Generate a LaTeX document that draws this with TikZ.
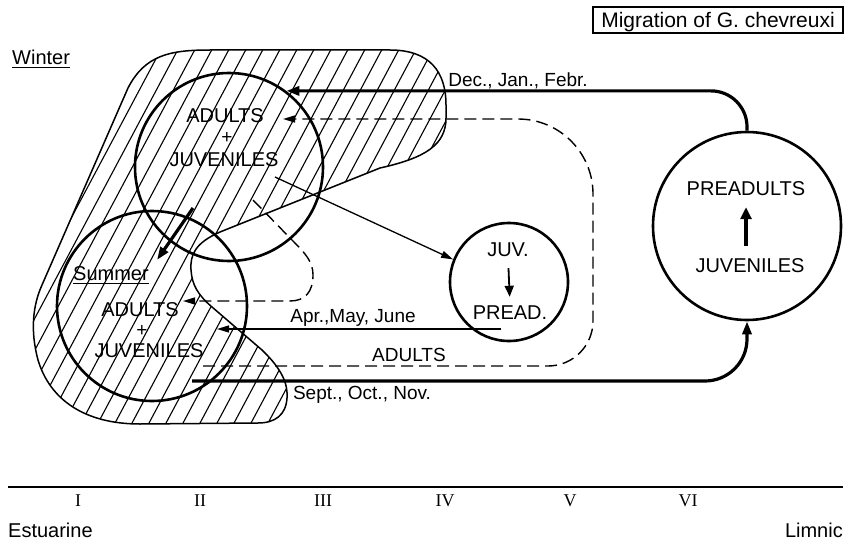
\documentclass[tikz,border=0pt]{standalone}
\usepackage{fontspec}
\setmainfont{Liberation Sans}
\newfontfamily\romanfont{Liberation Serif}
\usetikzlibrary{arrows.meta}
\begin{document}
\begin{tikzpicture}[x=1pt,y=-1pt,
  txt/.style={font=\fontsize{20}{24}\selectfont, inner sep=0pt, text height=14pt, text depth=0pt},
  plustxt/.style={font=\fontsize{19}{23}\selectfont, inner sep=0pt, text height=12pt, text depth=-2pt},
  lbl/.style={font=\fontsize{19}{23}\selectfont, inner sep=0pt, text height=13.5pt, text depth=0pt},
  romtxt/.style={font=\romanfont\fontsize{18}{22}\selectfont, inner sep=0pt, text height=12pt, text depth=0pt},
  bigcirc/.style={circle, draw, line width=2.6pt, inner sep=0pt},
  thickarrow/.style={line width=3.2pt, -{Triangle[length=13pt,width=9pt]}},
  thinarrow/.style={line width=1.3pt, -{Triangle[length=12pt,width=7pt]}},
  dasharrow/.style={line width=1.4pt, dash pattern=on 12pt off 6pt, -{Triangle[length=12pt,width=7pt]}},
  blobline/.style={line width=1.5pt},
  hatch/.style={line width=1.1pt},
]
\useasboundingbox (0,0) rectangle (845,543);

% hatched region
\begin{scope}
\clip (42,285) -- (128,88) .. controls (145,55) and (170,50) .. (210,50) -- (390,50)
  .. controls (430,50) and (446,72) .. (446,105) -- (446,118)
  .. controls (446,145) and (425,158) .. (380,168) -- (220,232)
  .. controls (195,243) and (190,255) .. (191,270)
  .. controls (192,285) and (198,295) .. (212,307) -- (262,350)
  .. controls (283,370) and (288,385) .. (287,398)
  .. controls (286,415) and (275,423) .. (258,423) -- (140,424)
  .. controls (85,424) and (50,400) .. (38,360)
  .. controls (30,330) and (33,305) .. (42,285) -- cycle;
\foreach \i in {-12,...,28} \draw[hatch] (\i*17+4, 440) -- (\i*17+217, 40);
\end{scope}
\draw[blobline] (42,285) -- (128,88) .. controls (145,55) and (170,50) .. (210,50) -- (390,50)
  .. controls (430,50) and (446,72) .. (446,105) -- (446,118)
  .. controls (446,145) and (425,158) .. (380,168) -- (220,232)
  .. controls (195,243) and (190,255) .. (191,270)
  .. controls (192,285) and (198,295) .. (212,307) -- (262,350)
  .. controls (283,370) and (288,385) .. (287,398)
  .. controls (286,415) and (275,423) .. (258,423) -- (140,424)
  .. controls (85,424) and (50,400) .. (38,360)
  .. controls (30,330) and (33,305) .. (42,285) -- cycle;

% circles
\node[bigcirc, minimum size=188pt] (W) at (229,167) {};
\node[bigcirc, minimum size=190pt] (S) at (152,306) {};
\node[bigcirc, minimum size=118pt] (J) at (509,282) {};
\node[bigcirc, minimum size=188pt] (R) at (747,226) {};

% circle texts
\node[txt] (wa) at (225,115) {ADULTS};
\node[plustxt] (wp) at (227,137) {+};
\node[txt] (wj) at (224,159) {JUVENILES};
\node[txt] (sa) at (140,309) {ADULTS};
\node[plustxt] (sp) at (142,330) {+};
\node[txt] (sj) at (149,350) {JUVENILES};
\node[txt] (jv) at (508,249) {JUV.};
\node[txt] (pd) at (510,312) {PREAD.};
\node[txt] (ra) at (746,188) {PREADULTS};
\node[txt] (rj) at (750,265) {JUVENILES};
\draw[line width=1.8pt, -{Triangle[length=11pt,width=9pt]}, shorten <=12pt, shorten >=8pt] (jv.south) -- (pd.north);
\draw[line width=3.2pt, -{Triangle[length=12pt,width=11pt]}, shorten <=12pt, shorten >=12pt] (rj.north -| ra.south) -- (ra.south);

% season labels
\node[txt, anchor=west] (winter) at (12,57) {Winter};
\draw[line width=1.3pt] ([yshift=-3.5pt]winter.south west) -- ([yshift=-3.5pt]winter.south east);
\node[txt, anchor=west] (summer) at (73,273) {Summer};
\draw[line width=1.3pt] ([yshift=-3.5pt]summer.south west) -- ([yshift=-3.5pt]summer.south east);

% title
\node[draw, line width=1.3pt, font=\fontsize{21}{25}\selectfont, minimum width=250pt, minimum height=26pt, inner sep=0pt, text height=15pt, text depth=0pt] (title) at (718,20) {Migration of G. chevreuxi};

% connectors
\draw[thickarrow, rounded corners=36pt] (R.north) |- (W.53);
\coordinate (sst) at (192,381);
\draw[thickarrow, rounded corners=42pt] (sst) -| (R.south);
\coordinate (d1) at (203,366);
\coordinate (d2) at (283,119);
\draw[dasharrow] (d1) [rounded corners=45pt] -- (593,366) -- (593,240) [rounded corners=75pt] -- (593,119) -- (d2);
\coordinate (s1) at (253,200);
\coordinate (s2) at (183,301);
\draw[dasharrow] (s1) -- (292,240) .. controls (306,254) and (313,262) .. (313,275) .. controls (313,292) and (305,301) .. (290,301) -- (s2);
\coordinate (t1) at (275,177);
\draw[thinarrow] (t1) -- (J.158);
\coordinate (a1) at (501,329);
\coordinate (a2) at (217,329);
\draw[thinarrow] (a1) -- (a2);
\coordinate (k1) at (193,208);
\coordinate (k2) at (157,260);
\draw[thickarrow] (k1) -- (k2);

% connector labels
\node[lbl] (ldec) at (518,80) {Dec., Jan., Febr.};
\node[lbl] (lapr) at (353,316) {Apr.,May, June};
\node[lbl] (ladu) at (409,355) {ADULTS};
\node[lbl] (lsep) at (362,393) {Sept., Oct., Nov.};

% axis
\coordinate (axL) at (8,487);
\coordinate (axR) at (843,487);
\draw[line width=1.5pt] (axL) -- (axR);
\node[romtxt] (n1) at (78,500) {I};
\node[romtxt] (n2) at (200,500) {II};
\node[romtxt] (n3) at (323,500) {III};
\node[romtxt] (n4) at (445,500) {IV};
\node[romtxt] (n5) at (570,500) {V};
\node[romtxt] (n6) at (688,500) {VI};
\node[txt, anchor=west] (est) at (8,530) {Estuarine};
\node[txt, anchor=east] (lim) at (843,530) {Limnic};
\end{tikzpicture}
\end{document}
